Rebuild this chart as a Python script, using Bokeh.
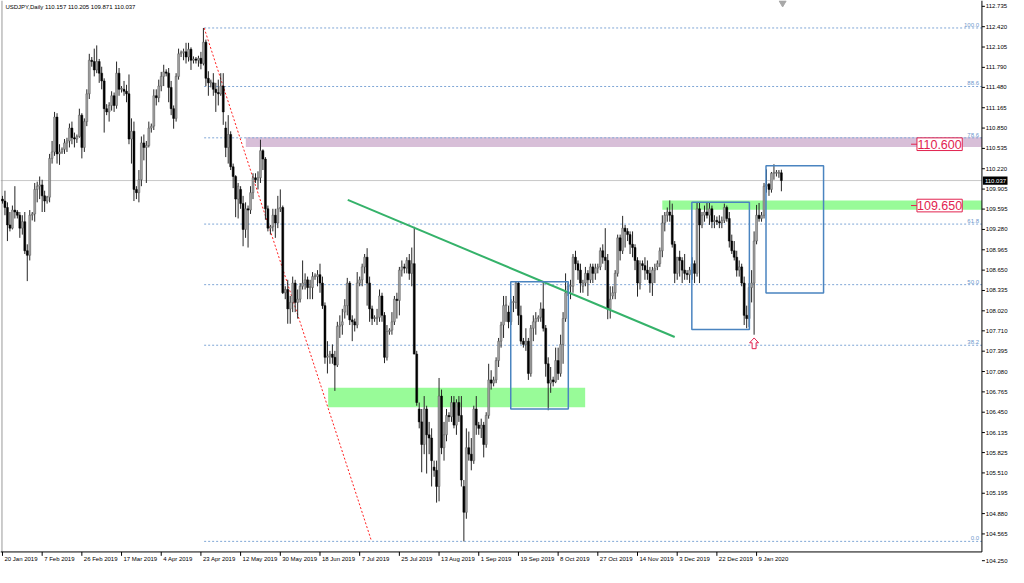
import numpy as np
from bokeh.plotting import figure
from bokeh.models import Range1d, Span
from bokeh.embed import file_html
from bokeh.resources import INLINE
from bokeh.core.properties import value

# ---------------- data ----------------
symbol = "USDJPY,Daily"

date_labels = ["20 Jan 2019", "7 Feb 2019", "26 Feb 2019", "17 Mar 2019", "4 Apr 2019",
               "23 Apr 2019", "12 May 2019", "30 May 2019", "18 Jun 2019", "7 Jul 2019",
               "25 Jul 2019", "13 Aug 2019", "1 Sep 2019", "19 Sep 2019", "8 Oct 2019",
               "27 Oct 2019", "14 Nov 2019", "3 Dec 2019", "22 Dec 2019", "9 Jan 2020"]
date_label_bars = [0, 16, 32, 48, 64, 80, 96, 112, 128, 144, 160, 176, 192, 208, 224,
                   240, 256, 272, 288, 304]

opens = [
    109.75, 109.72, 109.62, 109.35, 109.30, 109.58,
    109.55, 109.50, 109.30, 109.40, 108.95, 108.88,
    109.50, 109.52, 109.90, 109.95, 109.97, 109.80,
    109.72, 109.78, 110.38, 110.48, 111.02, 110.45,
    110.48, 110.52, 110.62, 110.65, 110.85, 110.70,
    110.68, 110.72, 111.05, 110.55, 110.95, 111.38,
    111.90, 111.88, 111.75, 111.88, 111.70, 111.58,
    111.15, 111.10, 111.20, 111.35, 111.20, 111.70,
    111.45, 111.45, 111.42, 111.38, 110.68, 110.80,
    109.90, 109.85, 110.05, 110.62, 110.55, 110.58,
    110.85, 110.88, 111.35, 111.32, 111.50, 111.65,
    111.72, 111.70, 111.48, 111.15, 111.00, 111.65,
    112.00, 112.02, 112.03, 111.95, 112.07, 111.90,
    111.92, 111.90, 111.93, 111.85, 112.18, 111.62,
    111.55, 111.55, 111.45, 111.40, 111.38, 111.50,
    110.85, 110.55, 110.75, 110.25, 110.10, 109.75,
    109.90, 109.68, 109.28, 109.60, 109.58, 109.85,
    110.08, 110.05, 110.08, 110.50, 110.37, 109.60,
    109.30, 109.32, 109.50, 109.38, 109.60, 109.62,
    108.30, 108.35, 108.05, 108.15, 108.45, 108.15,
    108.20, 108.40, 108.45, 108.50, 108.38, 108.38,
    108.55, 108.55, 108.58, 108.45, 108.10, 107.30,
    107.32, 107.35, 107.30, 107.18, 107.78, 107.80,
    108.00, 108.10, 108.45, 107.88, 107.85, 107.80,
    108.45, 108.50, 108.70, 108.85, 108.45, 108.05,
    107.90, 107.90, 107.92, 108.25, 107.95, 107.30,
    107.70, 107.72, 107.85, 108.20, 108.18, 108.65,
    108.70, 108.68, 108.80, 108.60, 108.75, 107.35,
    106.50, 106.30, 105.95, 106.50, 106.10, 106.05,
    105.60, 105.55, 105.30, 106.70, 105.90, 106.10,
    106.40, 106.38, 106.60, 106.25, 106.60, 106.40,
    105.30, 104.90, 105.90, 105.80, 105.70, 106.50,
    106.25, 106.20, 106.25, 105.95, 106.40, 106.95,
    106.90, 106.95, 107.25, 107.55, 107.80, 108.10,
    108.00, 107.85, 108.15, 108.15, 108.45, 107.95,
    107.55, 107.50, 107.55, 107.05, 107.75, 107.85,
    107.90, 107.92, 108.05, 107.75, 107.20, 106.90,
    106.95, 106.92, 107.25, 107.05, 107.50, 107.90,
    108.35, 108.40, 108.40, 108.85, 108.75, 108.65,
    108.40, 108.45, 108.60, 108.50, 108.70, 108.60,
    108.68, 108.70, 108.95, 108.85, 108.80, 108.05,
    108.25, 108.30, 108.60, 109.15, 108.95, 109.30,
    109.25, 109.20, 109.05, 109.00, 108.80, 108.45,
    108.75, 108.72, 108.65, 108.60, 108.45, 108.65,
    108.70, 108.75, 108.95, 109.38, 109.50, 109.55,
    109.50, 109.05, 108.60, 108.85, 108.80, 108.65,
    108.60, 108.58, 108.65, 108.75, 108.60, 109.60,
    109.35, 109.50, 109.55, 109.50, 109.60, 109.40,
    109.42, 109.40, 109.38, 109.42, 109.62, 109.45,
    109.10, 108.95, 108.85, 108.65, 108.70, 108.45,
    107.95, 107.90, 108.38, 108.45, 109.10, 109.50,
    109.45, 109.50, 109.95, 109.98, 109.90, 110.15,
    110.15, 110.15, 110.157]

highs = [
    109.80, 109.88, 109.70, 109.55, 109.65, 109.95,
    109.58, 109.55, 109.50, 109.55, 109.05, 109.58,
    109.55, 110.00, 110.02, 110.10, 110.05, 109.88,
    109.80, 110.45, 110.65, 111.10, 111.08, 110.60,
    110.55, 110.68, 110.70, 110.92, 110.95, 110.78,
    110.75, 111.15, 111.08, 111.00, 111.45, 112.00,
    111.95, 112.08, 112.13, 111.92, 111.80, 111.62,
    111.22, 111.25, 111.42, 111.40, 111.88, 111.78,
    111.50, 111.58, 111.52, 111.68, 111.00, 110.95,
    109.95, 110.20, 110.72, 110.75, 110.65, 110.95,
    110.92, 111.45, 111.45, 111.60, 111.72, 111.83,
    111.76, 111.78, 111.58, 111.20, 111.70, 112.08,
    112.05, 112.08, 112.17, 112.17, 112.10, 111.96,
    111.95, 111.97, 112.03, 112.40, 112.22, 111.73,
    111.60, 111.70, 111.55, 111.60, 111.70, 111.70,
    110.95, 111.05, 110.80, 110.30, 110.12, 110.00,
    109.95, 109.80, 109.70, 109.65, 109.95, 110.15,
    110.15, 110.18, 110.67, 110.52, 110.40, 109.65,
    109.35, 109.60, 109.60, 109.80, 109.90, 109.65,
    108.40, 108.50, 108.25, 108.55, 108.50, 108.35,
    108.45, 108.80, 108.60, 108.55, 108.50, 108.62,
    108.60, 108.65, 108.75, 108.55, 108.15, 107.55,
    107.40, 107.50, 107.40, 107.85, 107.95, 108.05,
    108.20, 108.53, 108.48, 107.95, 107.90, 108.62,
    108.55, 108.75, 108.90, 108.99, 108.55, 108.10,
    107.95, 108.05, 108.35, 108.30, 108.00, 107.80,
    107.75, 108.00, 108.25, 108.30, 108.70, 108.80,
    108.75, 108.85, 108.90, 109.00, 109.32, 107.40,
    106.60, 106.50, 106.70, 106.55, 106.30, 106.20,
    105.70, 105.70, 106.98, 106.80, 106.30, 106.50,
    106.45, 106.70, 106.70, 106.65, 106.70, 106.70,
    105.40, 106.20, 106.15, 106.05, 106.55, 106.70,
    106.30, 106.35, 106.30, 106.45, 107.20, 107.10,
    107.00, 107.30, 107.60, 107.85, 108.25, 108.25,
    108.10, 108.20, 108.25, 108.48, 108.47, 108.10,
    107.60, 107.75, 107.60, 107.80, 107.95, 108.00,
    107.95, 108.15, 108.47, 107.80, 107.30, 107.15,
    107.00, 107.45, 107.45, 107.65, 108.00, 108.60,
    108.45, 108.50, 108.90, 108.95, 108.80, 108.75,
    108.50, 108.70, 108.65, 108.75, 108.75, 108.75,
    108.75, 109.00, 109.05, 109.30, 108.90, 108.40,
    108.40, 108.65, 109.20, 109.20, 109.49, 109.35,
    109.30, 109.25, 109.25, 109.05, 108.85, 108.80,
    108.80, 108.85, 108.80, 108.70, 108.70, 108.75,
    108.80, 109.00, 109.50, 109.55, 109.62, 109.73,
    109.68, 109.10, 108.85, 108.95, 108.85, 108.90,
    108.65, 108.70, 108.85, 108.80, 109.70, 109.70,
    109.55, 109.65, 109.70, 109.70, 109.65, 109.50,
    109.48, 109.50, 109.48, 109.68, 109.65, 109.55,
    109.20, 109.10, 108.95, 108.80, 108.75, 108.55,
    108.10, 108.45, 108.65, 109.25, 109.66, 109.69,
    109.55, 110.00, 110.21, 110.00, 110.17, 110.29,
    110.20, 110.20, 110.205]

lows = [
    109.68, 109.50, 109.10, 109.25, 109.28, 109.45,
    109.45, 109.15, 109.20, 108.90, 108.48, 108.80,
    109.42, 109.40, 109.70, 109.75, 109.55, 109.55,
    109.68, 109.70, 110.30, 110.42, 110.30, 110.28,
    110.45, 110.45, 110.48, 110.55, 110.60, 110.55,
    110.62, 110.70, 110.38, 110.48, 110.88, 111.30,
    111.80, 111.65, 111.70, 111.55, 111.45, 110.78,
    111.05, 110.95, 111.12, 111.10, 111.15, 111.35,
    111.40, 111.35, 111.25, 110.60, 110.30, 109.72,
    109.75, 109.70, 109.95, 110.35, 110.00, 110.55,
    110.78, 110.82, 111.20, 111.25, 111.42, 111.50,
    111.65, 111.25, 111.05, 110.84, 110.95, 111.60,
    111.95, 111.90, 111.85, 111.88, 111.75, 111.85,
    111.85, 111.80, 111.76, 111.82, 111.50, 111.35,
    111.48, 111.35, 111.10, 111.20, 111.35, 110.90,
    110.40, 110.30, 110.20, 109.92, 109.47, 109.45,
    109.60, 109.02, 109.15, 109.00, 109.52, 109.75,
    110.00, 109.90, 110.00, 110.20, 109.43, 109.25,
    109.20, 109.25, 109.15, 109.30, 109.55, 108.28,
    108.20, 107.82, 107.82, 108.00, 108.00, 107.90,
    108.15, 108.35, 108.35, 108.20, 108.20, 108.20,
    108.50, 108.40, 108.30, 108.05, 107.20, 107.05,
    107.20, 107.20, 106.78, 107.15, 107.60, 107.65,
    107.90, 107.95, 107.80, 107.55, 107.70, 107.75,
    108.40, 108.40, 108.60, 108.10, 107.85, 107.80,
    107.85, 107.80, 107.85, 107.85, 107.21, 107.25,
    107.65, 107.65, 107.80, 107.90, 107.95, 108.55,
    108.60, 108.60, 108.50, 108.40, 107.35, 106.55,
    106.20, 105.52, 105.80, 105.50, 105.80, 105.30,
    105.45, 105.05, 105.07, 105.80, 105.70, 106.00,
    106.30, 106.30, 106.20, 106.10, 106.30, 105.30,
    104.45, 104.80, 105.70, 105.55, 105.65, 106.10,
    106.10, 106.05, 105.75, 105.90, 106.35, 106.80,
    106.85, 106.90, 107.15, 107.45, 107.60, 107.85,
    107.75, 107.80, 108.00, 108.05, 107.80, 107.50,
    107.45, 107.40, 106.95, 107.00, 107.55, 107.65,
    107.85, 107.85, 107.70, 107.00, 106.48, 106.75,
    106.85, 106.90, 106.95, 107.00, 107.20, 107.85,
    108.25, 108.20, 108.30, 108.65, 108.50, 108.30,
    108.30, 108.40, 108.25, 108.45, 108.45, 108.50,
    108.60, 108.65, 108.75, 108.65, 107.89, 107.90,
    108.20, 108.20, 108.55, 108.80, 108.90, 109.00,
    109.10, 108.90, 108.85, 108.65, 108.24, 108.35,
    108.65, 108.50, 108.50, 108.30, 108.25, 108.45,
    108.65, 108.70, 108.85, 109.25, 109.40, 109.40,
    109.00, 108.45, 108.50, 108.55, 108.45, 108.50,
    108.50, 108.45, 108.50, 108.45, 108.55, 108.45,
    109.30, 109.40, 109.45, 109.35, 109.30, 109.30,
    109.35, 109.30, 109.30, 109.38, 109.40, 109.00,
    108.90, 108.80, 108.55, 108.55, 108.40, 107.80,
    107.75, 107.77, 108.15, 107.65, 109.05, 109.40,
    109.40, 109.45, 109.85, 109.80, 109.85, 110.05,
    110.10, 110.08, 109.871]

closes = [
    109.72, 109.62, 109.35, 109.30, 109.58, 109.55,
    109.50, 109.30, 109.40, 108.95, 108.88, 109.50,
    109.52, 109.90, 109.95, 109.97, 109.80, 109.72,
    109.78, 110.38, 110.48, 111.02, 110.45, 110.48,
    110.52, 110.62, 110.65, 110.85, 110.70, 110.68,
    110.72, 111.05, 110.55, 110.95, 111.38, 111.90,
    111.88, 111.75, 111.88, 111.70, 111.58, 111.15,
    111.10, 111.20, 111.35, 111.20, 111.70, 111.45,
    111.45, 111.42, 111.38, 110.68, 110.80, 109.90,
    109.85, 110.05, 110.62, 110.55, 110.58, 110.85,
    110.88, 111.35, 111.32, 111.50, 111.65, 111.72,
    111.70, 111.48, 111.15, 111.00, 111.65, 112.00,
    112.02, 112.03, 111.95, 112.07, 111.90, 111.92,
    111.90, 111.93, 111.85, 112.18, 111.62, 111.55,
    111.55, 111.45, 111.40, 111.38, 111.50, 111.10,
    110.55, 110.75, 110.25, 110.10, 109.75, 109.95,
    109.68, 109.28, 109.60, 109.58, 109.85, 110.08,
    110.05, 110.08, 110.50, 110.37, 109.60, 109.30,
    109.32, 109.50, 109.38, 109.60, 109.62, 108.30,
    108.35, 108.05, 108.15, 108.45, 108.15, 108.20,
    108.40, 108.45, 108.50, 108.38, 108.38, 108.55,
    108.55, 108.58, 108.45, 108.10, 107.30, 107.32,
    107.35, 107.30, 107.18, 107.78, 107.80, 107.85,
    108.10, 108.45, 107.88, 107.85, 107.80, 108.45,
    108.50, 108.70, 108.85, 108.45, 108.05, 107.90,
    107.90, 107.92, 108.25, 107.95, 107.30, 107.70,
    107.72, 107.85, 108.20, 108.18, 108.65, 108.70,
    108.68, 108.80, 108.60, 108.75, 107.35, 106.60,
    106.30, 105.95, 106.50, 106.10, 106.05, 105.70,
    105.55, 105.30, 106.70, 105.90, 106.10, 106.40,
    106.38, 106.60, 106.25, 106.60, 106.40, 105.40,
    104.90, 105.90, 105.80, 105.70, 106.50, 106.25,
    106.20, 106.25, 105.95, 106.40, 106.95, 106.90,
    106.95, 107.25, 107.55, 107.80, 108.10, 108.10,
    107.85, 108.15, 108.15, 108.45, 107.95, 107.55,
    107.50, 107.55, 107.05, 107.75, 107.85, 107.90,
    107.92, 108.05, 107.75, 107.20, 106.90, 106.95,
    106.92, 107.25, 107.05, 107.50, 107.90, 108.30,
    108.40, 108.40, 108.85, 108.75, 108.65, 108.45,
    108.45, 108.60, 108.50, 108.70, 108.60, 108.68,
    108.70, 108.95, 108.85, 108.80, 108.05, 108.20,
    108.30, 108.60, 109.15, 108.95, 109.30, 109.25,
    109.20, 109.05, 109.00, 108.80, 108.45, 108.75,
    108.72, 108.65, 108.60, 108.45, 108.65, 108.68,
    108.75, 108.95, 109.38, 109.50, 109.55, 109.50,
    109.05, 108.60, 108.85, 108.80, 108.65, 108.60,
    108.58, 108.65, 108.75, 108.60, 109.60, 109.35,
    109.50, 109.55, 109.50, 109.60, 109.40, 109.42,
    109.40, 109.38, 109.42, 109.62, 109.45, 109.10,
    108.95, 108.85, 108.65, 108.70, 108.45, 107.95,
    107.90, 108.38, 108.45, 109.10, 109.50, 109.45,
    109.50, 109.95, 109.98, 109.90, 110.15, 110.15,
    110.15, 110.16, 110.037]

price_ticks = [112.735, 112.420, 112.105, 111.790, 111.480, 111.165, 110.850, 110.535,
               110.220, 109.905, 109.595, 109.280, 108.965, 108.650, 108.335, 108.020,
               107.710, 107.395, 107.080, 106.765, 106.450, 106.135, 105.825, 105.510,
               105.195, 104.880, 104.565, 104.250]

fib_ratios = [0.0, 38.2, 50.0, 61.8, 78.6, 88.6, 100.0]
fib_low, fib_high = 104.45, 112.40
fib_start_bar, fib_end_bar = 81.3, 148.8

trend_bars = [139.2, 271.0]
trend_prices = [109.738, 107.615]

# rectangles: left bar, right bar, bottom price, top price
box_left = [204.9, 277.9, 307.8]
box_right = [228.1, 301.1, 331.0]
box_bottom = [106.50, 107.73, 108.297]
box_top = [108.469, 109.703, 110.265]

zone_left = [131.3, 266.0]
zone_right = [234.9, 394.84]
zone_bottom = [106.526, 109.587]
zone_top = [106.827, 109.727]
resist_left, resist_right, resist_bottom, resist_top = 98.1, 394.84, 110.556, 110.707

level_prices = [110.600, 109.650]
level_texts = ["110.600", "109.650"]
arrow_bar, arrow_top, arrow_bottom = 303.0, 107.60, 107.434


# ---------------- layout helpers (screen pixel -> data) ----------------
def bx(px):
    return (px - 2.0) / 2.52


def py(px):
    return 112.735 - (px - 6.0) / 66.4


X0, X1 = bx(0), bx(1024)
Y0, Y1 = py(583), py(0)
AX, AY = bx(997), py(567)
FONT = "Liberation Sans"

p = figure(width=1008, height=567, output_backend="svg", toolbar_location=None,
           x_range=Range1d(X0, X1), y_range=Range1d(Y0, Y1),
           x_axis_type=None, y_axis_type=None,
           min_border_left=0, min_border_top=0, min_border_right=0, min_border_bottom=0)
p.outline_line_color = None
p.background_fill_color = "white"
p.border_fill_color = "white"

# zones
p.quad(left=[resist_left], right=[resist_right], bottom=[resist_bottom], top=[resist_top],
       fill_color="#d8bfd8", line_color=None)
p.quad(left=zone_left, right=zone_right, bottom=zone_bottom, top=zone_top,
       fill_color="#98fb98", line_color=None)

# current price line and left border
p.segment(x0=[X0], y0=[closes[-1]], x1=[AX], y1=[closes[-1]], line_color="#c8c8c8", line_width=1)
p.segment(x0=[bx(1.5)], y0=[AY], x1=[bx(1.5)], y1=[Y1], line_color="#9a9a9a", line_width=1)

# fibonacci levels
fib_prices = [fib_low + r / 100.0 * (fib_high - fib_low) for r in fib_ratios]
nf = len(fib_prices)
p.segment(x0=[fib_start_bar] * nf, y0=fib_prices, x1=[AX] * nf, y1=fib_prices,
          line_color="#7fa6d6", line_width=1, line_dash="2 2")
p.text(x=[bx(994)] * nf, y=fib_prices, text=["%.1f" % r for r in fib_ratios],
       text_align="right", text_baseline="bottom", text_font_size="6px",
       text_font=value(FONT), text_color="#6f98cc", y_offset=-1)
p.line(x=[fib_start_bar, fib_end_bar], y=[fib_high, fib_low], line_color="#ff2020",
       line_width=1, line_dash="2 2")

# candles
bars = np.arange(len(closes))
o = np.array(opens)
c = np.array(closes)
hi = np.array(highs)
lo = np.array(lows)
top = np.maximum(o, c)
bot = np.minimum(o, c)
top = np.where(top - bot < 0.014, bot + 0.014, top)
up = c >= o
p.segment(x0=bars, y0=lo, x1=bars, y1=hi, line_color="#262626", line_width=1)
p.vbar(x=bars[up], width=0.78, top=top[up], bottom=bot[up], fill_color="#a3a3a3",
       line_color="#5a5a5a", line_width=0.5)
p.vbar(x=bars[~up], width=0.78, top=top[~up], bottom=bot[~up], fill_color="#000000",
       line_color="#000000", line_width=0.5)

# trend line
p.line(x=trend_bars, y=trend_prices, line_color="#35b26a", line_width=2)

# rectangles
p.quad(left=box_left, right=box_right, bottom=box_bottom, top=box_top,
       fill_color=None, line_color="#4a84c0", line_width=1.5)

# level labels
RED = "#e2234f"
ph = 0.098
p.quad(left=[bx(931)] * 2, right=[bx(977)] * 2, bottom=[v - ph for v in level_prices],
       top=[v + ph for v in level_prices], fill_color="white", line_color=RED, line_width=1)
p.segment(x0=[bx(925)] * 2, y0=level_prices, x1=[bx(931)] * 2, y1=level_prices,
          line_color=RED, line_width=1)
p.text(x=[bx(954)] * 2, y=level_prices, text=level_texts, text_align="center",
       text_baseline="middle", text_font_size="12.5px", text_font=value(FONT),
       text_color=RED)

# up arrow
ax = arrow_bar
at, ab = arrow_top, arrow_bottom
am = at - 0.45 * (at - ab)
p.patch(x=[ax, ax + 1.8, ax + 0.8, ax + 0.8, ax - 0.8, ax - 0.8, ax - 1.8],
        y=[at, am, am, ab, ab, am, am],
        fill_color="white", line_color=RED, line_width=1)

# chart shift marker
p.scatter(x=[bars[-1] + 0.5], y=[py(2.5)], marker="inverted_triangle", size=7,
          fill_color="#a8a8a8", line_color="#a8a8a8")

# title
title = "%s  %.3f %.3f %.3f %.3f" % (symbol, opens[-1], highs[-1], lows[-1], closes[-1])
p.text(x=[bx(5)], y=[py(4)], text=[title], text_align="left", text_baseline="top",
       text_font_size="6px", text_font=value(FONT), text_color="black")

# ---------------- axes (MT4 style) ----------------
p.segment(x0=[AX], y0=[AY], x1=[AX], y1=[Y1], line_color="black", line_width=1)
p.segment(x0=[X0], y0=[AY], x1=[AX], y1=[AY], line_color="black", line_width=1)

label_y = list(price_ticks[:-1]) + [py(576)]
nt = len(price_ticks)
p.segment(x0=[AX] * nt, y0=label_y, x1=[bx(1000)] * nt, y1=label_y,
          line_color="black", line_width=1)
p.text(x=[bx(1001)] * nt, y=label_y, text=["%.3f" % t for t in price_ticks],
       text_align="left", text_baseline="middle", text_font_size="6px",
       text_font=value(FONT), text_color="black")

nd = len(date_label_bars)
p.segment(x0=date_label_bars, y0=[AY] * nd, x1=date_label_bars, y1=[py(571)] * nd,
          line_color="black", line_width=1)
p.text(x=[b + 0.8 for b in date_label_bars], y=[py(571.5)] * nd, text=date_labels,
       text_align="left", text_baseline="top", text_font_size="6px",
       text_font=value(FONT), text_color="black")

# current price tag
p.quad(left=[bx(998)], right=[bx(1023)], bottom=[py(189.5)], top=[py(181)],
       fill_color="black", line_color=None)
p.text(x=[bx(1000)], y=[closes[-1]], text=["%.3f" % closes[-1]], text_align="left",
       text_baseline="middle", text_font_size="6px", text_font=value(FONT),
       text_color="white")

open("out.html", "w").write(file_html(p, INLINE))
